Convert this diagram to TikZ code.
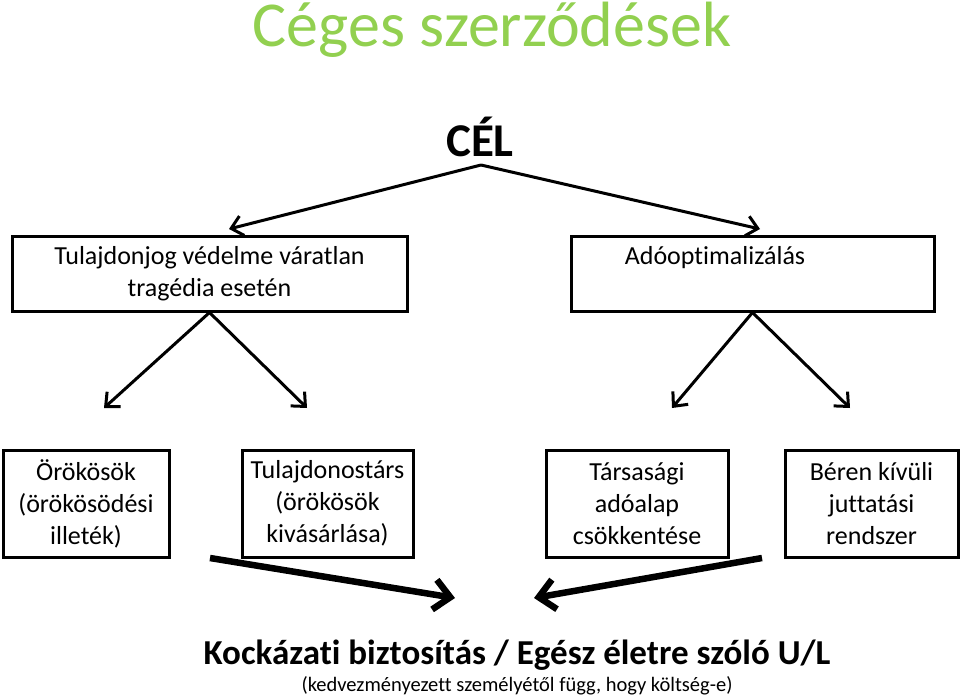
\documentclass[tikz,border=0pt]{standalone}
\usepackage{fontspec}
\setmainfont{Carlito}[Ligatures=NoCommon]
\usetikzlibrary{arrows.meta}
\definecolor{titlegreen}{RGB}{146,208,80}
\begin{document}
\begin{tikzpicture}[x=1pt,y=-1pt,
  box/.style={draw,line width=3pt,inner sep=0pt,align=center,font=\fontsize{26}{32}\selectfont},
  arr/.style={-{Straight Barb[length=11pt,width=20pt]},line width=3pt},
  bigarr/.style={-{Straight Barb[length=16pt,width=30pt]},line width=6.5pt}]
\useasboundingbox (0,0) rectangle (960,699);

\node[text=titlegreen,font=\fontsize{64}{68}\selectfont] (cim) at (492,30) {Céges szerződések};
\node[font=\bfseries\fontsize{47}{50}\selectfont] (cel) at (480,137) {CÉL};

\node[box,minimum width=395,minimum height=75] (vedelem) at (209.5,273.5) {Tulajdonjog védelme váratlan\\tragédia esetén};
\node[box,minimum width=363,minimum height=75] (adoopt) at (752.5,273.5) {};
\node[font=\fontsize{26}{32}\selectfont] (adooptszoveg) at (715,258) {Adóoptimalizálás};

\node[box,minimum width=166,minimum height=107] (orokosok) at (86,503.5) {Örökösök\\(örökösödési\\illeték)};
\node[box,minimum width=171,minimum height=107] (tarstul) at (327.5,503.5) {Tulajdonostárs\\(örökösök\\kivásárlása)};
\node[box,minimum width=182,minimum height=107] (tarsasagi) at (637,503.5) {Társasági\\adóalap\\csökkentése};
\node[box,minimum width=173,minimum height=107] (beren) at (871.5,503.5) {Béren kívüli\\juttatási\\rendszer};

\node[font=\bfseries\fontsize{35}{40}\selectfont] (kockazati) at (517,655) {Kockázati biztosítás / Egész életre szóló U/L};
\node[font=\fontsize{20.5}{24}\selectfont] (kedvezmeny) at (517,686) {(kedvezményezett személyétől függ, hogy költség-e)};

\coordinate (csucs) at (481,165);
\coordinate (balvege) at (229,229);
\coordinate (jobbvege) at (760,229);
\draw[arr] (csucs)--(balvege);
\draw[arr] (csucs)--(jobbvege);

\coordinate (a1) at (104,408);
\coordinate (a2) at (307,408);
\coordinate (b1) at (672,408);
\coordinate (b2) at (850,408);
\draw[arr] (vedelem.south)--(a1);
\draw[arr] (vedelem.south)--(a2);
\draw[arr] (adoopt.south)--(b1);
\draw[arr] (adoopt.south)--(b2);

\coordinate (balindul) at (210,558);
\coordinate (baltalal) at (455,598);
\coordinate (jobbindul) at (762,558);
\coordinate (jobbtalal) at (534,598);
\draw[bigarr] (balindul)--(baltalal);
\draw[bigarr] (jobbindul)--(jobbtalal);
\end{tikzpicture}
\end{document}
